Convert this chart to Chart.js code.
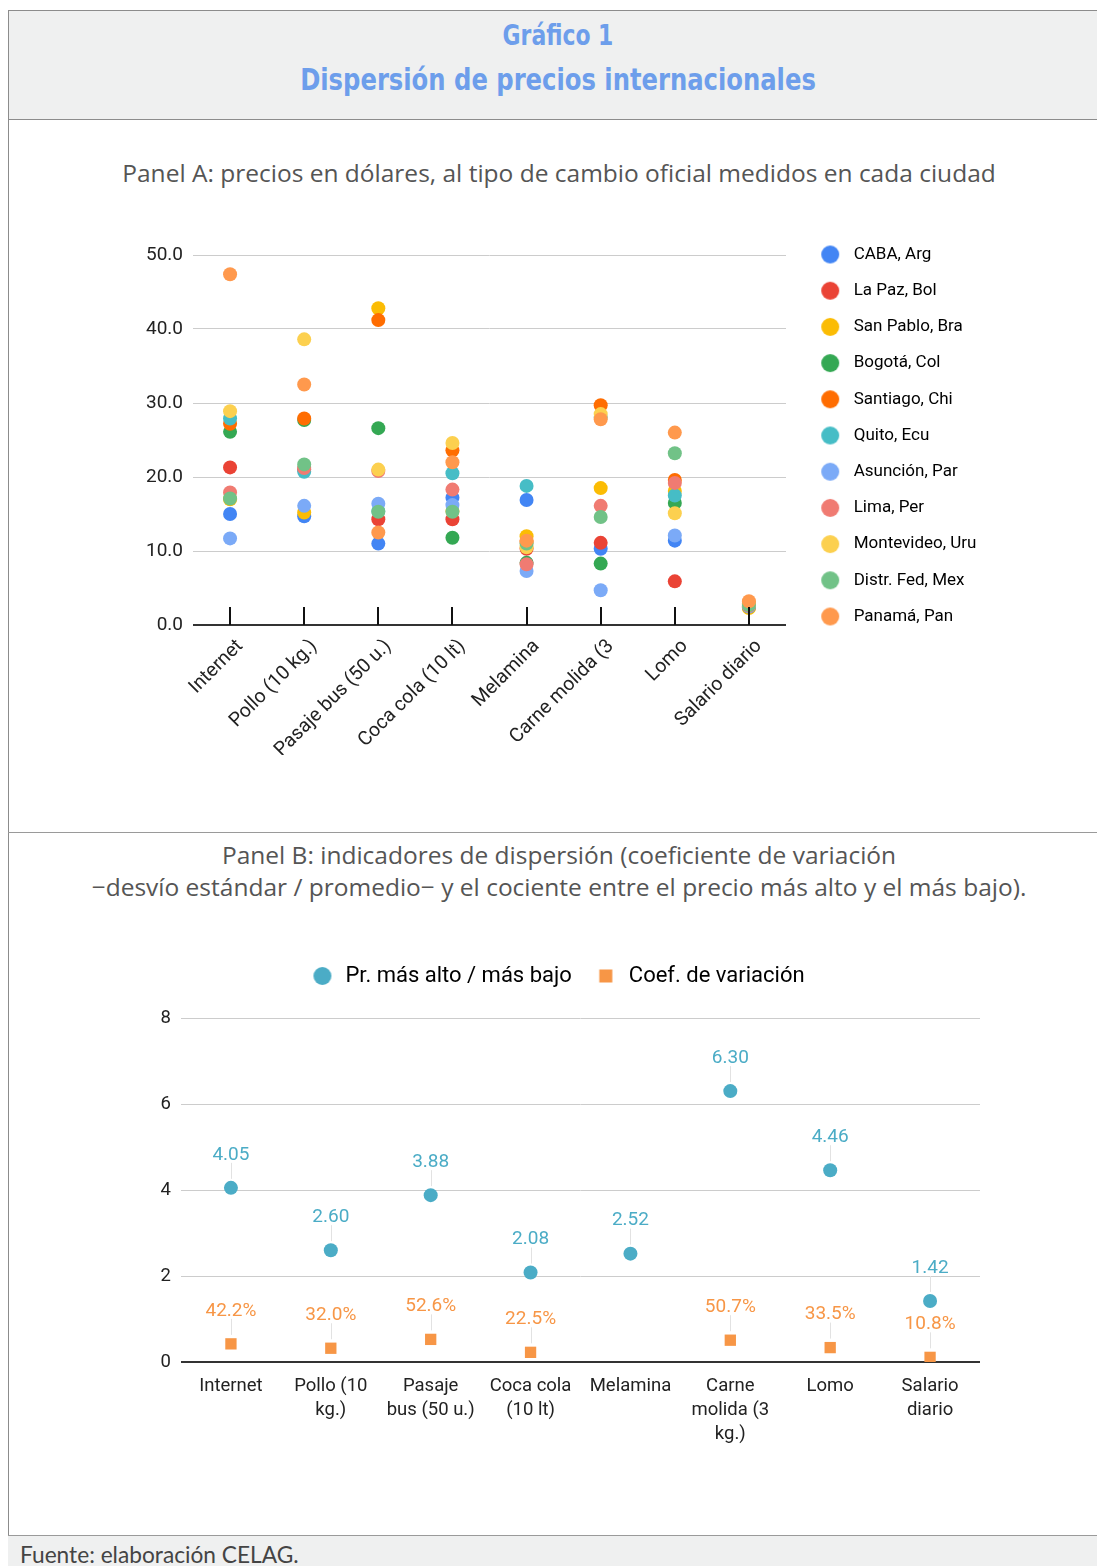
<!DOCTYPE html>
<html>
<head>
<meta charset="utf-8">
<script src="https://cdn.jsdelivr.net/npm/chart.js@4.4.1/dist/chart.umd.min.js"></script>
<style>
html,body{margin:0;padding:0;background:#fff;}
body{width:1097px;height:1566px;position:relative;overflow:hidden;font-family:"Open Sans",Lato,sans-serif;}
.abs{position:absolute;}
#leftline{left:8px;top:10px;width:1px;height:1556px;background:#8c8c8c;}
#head{left:8px;top:10px;width:1089px;height:108px;background:#eff0f0;border-top:1px solid #8c8c8c;border-bottom:1px solid #8c8c8c;}
#divider{left:8px;top:832px;width:1089px;height:1px;background:#9a9a9a;}
#foot{left:8px;top:1535px;width:1089px;height:31px;background:#eff0f0;border-top:1px solid #9a9a9a;}
.title{left:0;width:1116px;text-align:center;color:#6d9eeb;font-family:"DejaVu Sans Condensed","DejaVu Sans",sans-serif;font-weight:bold;white-space:nowrap;transform:scaleX(0.87);transform-origin:558px 0;}
.sub{left:0;width:1118px;text-align:center;color:#555;font-size:24.5px;white-space:nowrap;}
#fuente{left:20px;top:1540px;font-family:Lato,sans-serif;font-size:22.7px;line-height:30px;color:#444;white-space:nowrap;}
canvas{position:absolute;left:0;}
</style>
</head>
<body>
<div class="abs" id="head"></div>
<div class="abs" id="leftline"></div>
<div class="abs" id="divider"></div>
<div class="abs" id="foot"></div>
<div class="abs title" style="top:16px;font-size:28px;line-height:40px;">Gráfico 1</div>
<div class="abs title" style="top:59px;font-size:31px;line-height:40px;">Dispersión de precios internacionales</div>
<div class="abs sub" style="top:158px;line-height:30px;">Panel A: precios en dólares, al tipo de cambio oficial medidos en cada ciudad</div>
<div class="abs sub" style="top:839px;line-height:32px;">Panel B: indicadores de dispersión (coeficiente de variación<br>−desvío estándar / promedio− y el cociente entre el precio más alto y el más bajo).</div>
<div class="abs" id="fuente">Fuente: elaboración CELAG.</div>
<canvas id="chartA" width="1097" height="600" style="top:201px;"></canvas>
<canvas id="chartB" width="1097" height="540" style="top:931px;"></canvas>
<script>
// ---------- Panel A data ----------
const categoriesA = ['Internet', 'Pollo (10 kg.)', 'Pasaje bus (50 u.)', 'Coca cola (10 lt)', 'Melamina', 'Carne molida (3', 'Lomo', 'Salario diario'];
const cities = ['CABA, Arg', 'La Paz, Bol', 'San Pablo, Bra', 'Bogotá, Col', 'Santiago, Chi', 'Quito, Ecu', 'Asunción, Par', 'Lima, Per', 'Montevideo, Uru', 'Distr. Fed, Mex', 'Panamá, Pan'];
const cityColors = ['#4285f4', '#ea4335', '#fbbc04', '#34a853', '#ff6d01', '#46bdc6', '#7baaf7', '#f07b72', '#fcd04f', '#71c287', '#ff994d'];
const cabaArg       = [15.0, 14.7, 11.0, 17.2, 16.9, 10.3, 11.4, 2.6];
const lapazBol      = [21.3, 21.0, 14.3, 14.3, 10.3, 11.1, 5.9, 2.4];
const sanpabloBra   = [17.0, 15.2, 42.8, 15.4, 12.0, 18.5, 18.1, 2.3];
const bogotaCol     = [26.1, 27.7, 26.6, 11.8, 8.4, 8.3, 16.5, 2.5];
const santiagoChi   = [27.2, 27.9, 41.2, 23.6, 11.2, 29.7, 19.6, 2.9];
const quitoEcu      = [27.9, 20.7, 15.4, 20.5, 18.8, 28.1, 17.5, 2.7];
const asuncionPar   = [11.7, 16.1, 16.4, 16.2, 7.3, 4.7, 12.1, 2.5];
const limaPer       = [17.9, 21.2, 20.8, 18.3, 8.2, 16.1, 19.2, 2.6];
const montevideoUru = [28.9, 38.6, 21.0, 24.6, 10.5, 28.5, 15.1, 2.8];
const distrfedMex   = [17.1, 21.7, 15.3, 15.3, 11.0, 14.6, 23.2, 2.7];
const panamaPan     = [47.4, 32.5, 12.5, 22.0, 11.4, 27.8, 26.0, 3.2];
const pricesByCity = [cabaArg, lapazBol, sanpabloBra, bogotaCol, santiagoChi, quitoEcu, asuncionPar, limaPer, montevideoUru, distrfedMex, panamaPan];
const yTicksA = [0, 10, 20, 30, 40, 50];

// ---------- Panel B data ----------
const categoriesB = ['Internet', ['Pollo (10', 'kg.)'], ['Pasaje', 'bus (50 u.)'], ['Coca cola', '(10 lt)'], 'Melamina', ['Carne', 'molida (3', 'kg.)'], 'Lomo', ['Salario', 'diario']];
const seriesB = ['Pr. más alto / más bajo', 'Coef. de variación'];
const altoBajo = [4.05, 2.60, 3.88, 2.08, 2.52, 6.30, 4.46, 1.42];
const coefVariacion = [0.422, 0.320, 0.526, 0.225, null, 0.507, 0.335, 0.108];
const yTicksB = [0, 2, 4, 6, 8];

Chart.defaults.font.family = 'Roboto';
Chart.defaults.animation = false;

function markerImage(color, shape, w, h, cx, size) {
  const c = document.createElement('canvas');
  c.width = w; c.height = h;
  const g = c.getContext('2d');
  g.fillStyle = color;
  if (shape === 'circle') { g.beginPath(); g.arc(cx, h / 2, size / 2, 0, Math.PI * 2); g.fill(); }
  else { g.fillRect(cx - size / 2, h / 2 - size / 2, size, size); }
  return c;
}

// legend A geometry: make the plot end where the legend begins
const legA = { font: 17, pad: 19.2, box: 40 };
const mctx = document.createElement('canvas').getContext('2d');
mctx.font = legA.font + 'px Roboto';
const maxLegText = Math.max(...cities.map(c => mctx.measureText(c).width));
const legAWidth = legA.pad + legA.box + legA.font / 2 + maxLegText + 10;
const plotRightA = 786;
const padRightA = Math.max(0, 1097 - plotRightA - legAWidth);

// ---------- Chart A ----------
const tickMarks = {
  id: 'tickMarks',
  afterDatasetsDraw(chart) {
    const xs = chart.scales.x, ca = chart.chartArea, ctx = chart.ctx;
    ctx.save();
    ctx.strokeStyle = '#111'; ctx.lineWidth = 2;
    xs.ticks.forEach((t, i) => {
      const px = Math.round(xs.getPixelForTick(i));
      ctx.beginPath(); ctx.moveTo(px, ca.bottom - 18); ctx.lineTo(px, ca.bottom); ctx.stroke();
    });
    ctx.restore();
  }
};

new Chart(document.getElementById('chartA'), {
  type: 'line',
  data: {
    labels: categoriesA,
    datasets: cities.map((name, i) => ({
      label: name,
      data: pricesByCity[i],
      showLine: false,
      backgroundColor: cityColors[i],
      borderColor: cityColors[i],
      pointRadius: 7,
      pointHoverRadius: 7,
      pointBorderWidth: 0,
      order: -i
    }))
  },
  options: {
    responsive: false,
    layout: { padding: { top: 25.8, left: 0, right: padRightA, bottom: 46 } },
    plugins: {
      tooltip: { enabled: false },
      legend: {
        position: 'right', align: 'start',
        labels: {
          usePointStyle: true, pointStyleWidth: legA.box, padding: legA.pad,
          font: { size: legA.font }, color: '#333',
          generateLabels(chart) {
            return chart.data.datasets.map((ds, i) => ({
              text: ds.label, fillStyle: ds.backgroundColor, strokeStyle: ds.backgroundColor,
              lineWidth: 0, hidden: false, datasetIndex: i,
              pointStyle: markerImage(ds.backgroundColor, 'circle', 40, 20, 25, 18)
            }));
          }
        }
      }
    },
    scales: {
      x: {
        type: 'category', offset: true,
        grid: { display: false, drawTicks: false },
        border: { display: false },
        ticks: { autoSkip: false, minRotation: 45, maxRotation: 45, padding: 10, labelOffset: 10, color: '#222', font: { size: 19.5 } },
        afterFit(s) { s.height = 130; }
      },
      y: {
        min: yTicksA[0], max: yTicksA[yTicksA.length - 1],
        grid: { drawTicks: false, color: c => c.tick.value === 0 ? '#333' : '#cccccc', lineWidth: c => c.tick.value === 0 ? 2 : 1 },
        border: { display: false },
        ticks: { stepSize: yTicksA[1] - yTicksA[0], padding: 10, color: '#222', font: { size: 19 }, callback: v => Number(v).toFixed(1) },
        afterFit(s) { s.width = 193; s.paddingTop = 54; }
      }
    }
  },
  plugins: [tickMarks]
});

// ---------- Chart B ----------
const pointLabels = {
  id: 'pointLabels',
  afterDatasetsDraw(chart) {
    const ctx = chart.ctx;
    const fmt = [v => v.toFixed(2), v => (v * 100).toFixed(1) + '%'];
    const cols = ['#4bacc6', '#f79646'];
    chart.data.datasets.forEach((ds, di) => {
      const meta = chart.getDatasetMeta(di);
      meta.data.forEach((el, i) => {
        const v = ds.data[i];
        if (v === null || v === undefined) return;
        ctx.save();
        ctx.strokeStyle = '#e2e2e2'; ctx.lineWidth = 1;
        ctx.beginPath(); ctx.moveTo(Math.round(el.x) + 0.5, el.y - 9); ctx.lineTo(Math.round(el.x) + 0.5, el.y - 25); ctx.stroke();
        ctx.fillStyle = cols[di];
        ctx.font = '19px Roboto';
        ctx.textAlign = 'center'; ctx.textBaseline = 'middle';
        ctx.fillText(fmt[di](v), el.x, el.y - 33);
        ctx.restore();
      });
    });
  }
};

new Chart(document.getElementById('chartB'), {
  type: 'line',
  data: {
    labels: categoriesB,
    datasets: [
      { label: seriesB[0], data: altoBajo, showLine: false, pointStyle: 'circle', pointRadius: 7, pointHoverRadius: 7, pointBorderWidth: 0, backgroundColor: '#4bacc6', borderColor: '#4bacc6' },
      { label: seriesB[1], data: coefVariacion, showLine: false, pointStyle: 'rect', pointRadius: 8, pointHoverRadius: 8, pointBorderWidth: 0, backgroundColor: '#f79646', borderColor: '#f79646' }
    ]
  },
  options: {
    responsive: false,
    layout: { padding: { top: 12, left: 18, right: 0, bottom: 9 } },
    plugins: {
      tooltip: { enabled: false },
      legend: {
        position: 'top', align: 'center',
        labels: {
          usePointStyle: true, pointStyleWidth: 24, padding: 22,
          font: { size: 22 }, color: '#333',
          generateLabels(chart) {
            return chart.data.datasets.map((ds, i) => ({
              text: ds.label, fillStyle: ds.backgroundColor, strokeStyle: ds.backgroundColor,
              lineWidth: 0, hidden: false, datasetIndex: i,
              pointStyle: i === 0 ? markerImage(ds.backgroundColor, 'circle', 24, 20, 12, 18) : markerImage(ds.backgroundColor, 'rect', 24, 20, 12, 13)
            }));
          }
        }
      }
    },
    scales: {
      x: {
        type: 'category', offset: true,
        grid: { display: false, drawTicks: false },
        border: { display: false },
        ticks: { autoSkip: false, maxRotation: 0, padding: 12, color: '#222', font: { size: 18.5, lineHeight: 1.3 } },
        afterFit(s) { s.height = 100; s.paddingRight = 117; }
      },
      xTop: {
        type: 'category', position: 'top', display: true,
        grid: { display: false, drawTicks: false },
        border: { display: false },
        ticks: { display: false },
        afterFit(s) { s.height = 21; }
      },
      y: {
        min: yTicksB[0], max: yTicksB[yTicksB.length - 1],
        grid: { drawTicks: false, color: c => c.tick.value === 0 ? '#333' : '#cccccc', lineWidth: c => c.tick.value === 0 ? 2 : 1 },
        border: { display: false },
        ticks: { stepSize: yTicksB[1] - yTicksB[0], padding: 10, color: '#222', font: { size: 18.5 } },
        afterFit(s) { s.width = 163; }
      }
    }
  },
  plugins: [pointLabels]
});
</script>
</body>
</html>
